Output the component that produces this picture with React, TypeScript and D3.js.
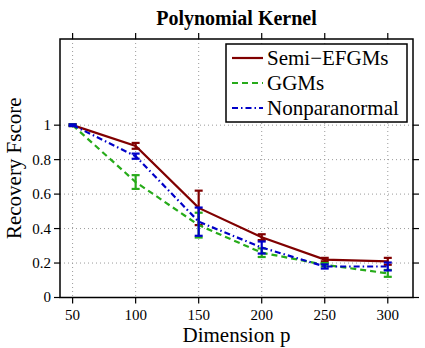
import React, { useEffect, useRef } from 'react';
import * as d3 from 'd3';

// dimension p on the x axis
const dims = [50, 100, 150, 200, 250, 300];
const xTicks = [50, 100, 150, 200, 250, 300];
const yTicks = [0, 0.2, 0.4, 0.6, 0.8, 1];

// recovery fscore, mean and error per method
const semiMean = [1.0, 0.88, 0.52, 0.35, 0.22, 0.21];
const semiErr = [0.005, 0.017, 0.1, 0.017, 0.01, 0.02];
const ggmMean = [1.0, 0.67, 0.42, 0.26, 0.19, 0.14];
const ggmErr = [0.005, 0.04, 0.072, 0.025, 0.01, 0.02];
const npnMean = [1.0, 0.82, 0.44, 0.29, 0.18, 0.18];
const npnErr = [0.005, 0.015, 0.082, 0.035, 0.012, 0.023];

const seriesNames = ['Semi\u2212EFGMs', 'GGMs', 'Nonparanormal'];

const App = () => {
  const ref = useRef<SVGSVGElement | null>(null);

  useEffect(() => {
    if (!ref.current) return;
    const width = 425;
    const height = 348;
    const left = 60, right = 413, top = 39, bottom = 297.5;
    const font = 'Liberation Serif';

    const svg = d3.select(ref.current);
    svg.selectAll('*').remove();
    svg.attr('width', width).attr('height', height)
      .attr('font-family', font);

    svg.append('rect').attr('width', width).attr('height', height).attr('fill', 'white');

    const x = d3.scaleLinear().domain([40, 320]).range([left, right]);
    const y = d3.scaleLinear().domain([0, 1.5]).range([bottom, top]);

    // dotted grid
    const grid = svg.append('g').attr('stroke', '#9a9a9a').attr('stroke-width', 1).attr('stroke-dasharray', '1,3');
    xTicks.forEach(t => {
      grid.append('line').attr('x1', x(t)).attr('x2', x(t)).attr('y1', top).attr('y2', bottom);
    });
    yTicks.slice(1).forEach(t => {
      grid.append('line').attr('x1', left).attr('x2', right).attr('y1', y(t)).attr('y2', y(t));
    });

    // series
    const series = [
      { name: seriesNames[0], mean: semiMean, err: semiErr, color: '#800000', dash: null },
      { name: seriesNames[1], mean: ggmMean, err: ggmErr, color: '#27ab1a', dash: '6,4' },
      { name: seriesNames[2], mean: npnMean, err: npnErr, color: '#0000c8', dash: '6,3,1.5,3' },
    ];

    const line = d3.line<number>()
      .x((_, i) => x(dims[i]))
      .y(d => y(d));

    series.forEach(s => {
      const g = svg.append('g');
      g.append('path')
        .datum(s.mean)
        .attr('d', line)
        .attr('fill', 'none')
        .attr('stroke', s.color)
        .attr('stroke-width', 2.2)
        .attr('stroke-dasharray', s.dash);

      s.mean.forEach((m, i) => {
        const cx = x(dims[i]);
        const y0 = y(m - s.err[i]);
        const y1 = y(m + s.err[i]);
        g.append('line').attr('x1', cx).attr('x2', cx).attr('y1', y0).attr('y2', y1)
          .attr('stroke', s.color).attr('stroke-width', 2.2);
        [y0, y1].forEach(yy => {
          g.append('line').attr('x1', cx - 4).attr('x2', cx + 4).attr('y1', yy).attr('y2', yy)
            .attr('stroke', s.color).attr('stroke-width', 2.2);
        });
      });
    });

    // frame
    svg.append('rect')
      .attr('x', left).attr('y', top)
      .attr('width', right - left).attr('height', bottom - top)
      .attr('fill', 'none').attr('stroke', 'black').attr('stroke-width', 1.5);

    // ticks (outward)
    const ticks = svg.append('g').attr('stroke', 'black').attr('stroke-width', 1.2);
    xTicks.forEach(t => {
      ticks.append('line').attr('x1', x(t)).attr('x2', x(t)).attr('y1', bottom).attr('y2', bottom + 6);
      ticks.append('line').attr('x1', x(t)).attr('x2', x(t)).attr('y1', top).attr('y2', top - 6);
    });
    yTicks.forEach(t => {
      ticks.append('line').attr('x1', left).attr('x2', left - 6).attr('y1', y(t)).attr('y2', y(t));
      ticks.append('line').attr('x1', right).attr('x2', right + 6).attr('y1', y(t)).attr('y2', y(t));
    });

    // tick labels
    svg.append('g').selectAll('text').data(xTicks).join('text')
      .attr('x', d => x(d)).attr('y', 319.5)
      .attr('text-anchor', 'middle')
      .attr('font-size', 15)
      .text(d => d);

    svg.append('g').selectAll('text').data(yTicks).join('text')
      .attr('x', 51).attr('y', d => y(d)).attr('dy', '0.33em')
      .attr('text-anchor', 'end')
      .attr('font-size', 15)
      .text(d => d3.format('~g')(d));

    // title and axis labels
    svg.append('text')
      .attr('x', (left + right) / 2).attr('y', 25)
      .attr('text-anchor', 'middle')
      .attr('font-size', 20).attr('font-weight', 'bold')
      .text('Polynomial Kernel');

    svg.append('text')
      .attr('x', (left + right) / 2).attr('y', 342)
      .attr('text-anchor', 'middle')
      .attr('font-size', 21)
      .text('Dimension p');

    svg.append('text')
      .attr('transform', `translate(21, ${y(0.75)}) rotate(-90)`)
      .attr('text-anchor', 'middle')
      .attr('font-size', 21)
      .text('Recovery Fscore');

    // legend
    const legend = svg.append('g');
    legend.append('rect')
      .attr('x', 226).attr('y', 44).attr('width', 181).attr('height', 78)
      .attr('fill', 'white').attr('stroke', 'black').attr('stroke-width', 1.5);

    series.forEach((s, i) => {
      const ly = 58 + i * 25;
      legend.append('line')
        .attr('x1', 232).attr('x2', 263).attr('y1', ly).attr('y2', ly)
        .attr('stroke', s.color).attr('stroke-width', 2.2)
        .attr('stroke-dasharray', s.dash);
      legend.append('text')
        .attr('x', 267).attr('y', ly).attr('dy', '0.35em')
        .attr('font-size', 21)
        .text(s.name);
    });
  }, []);

  return <svg ref={ref} style={{ position: 'absolute', left: 0, top: 0 }} />;
};

export default App;
